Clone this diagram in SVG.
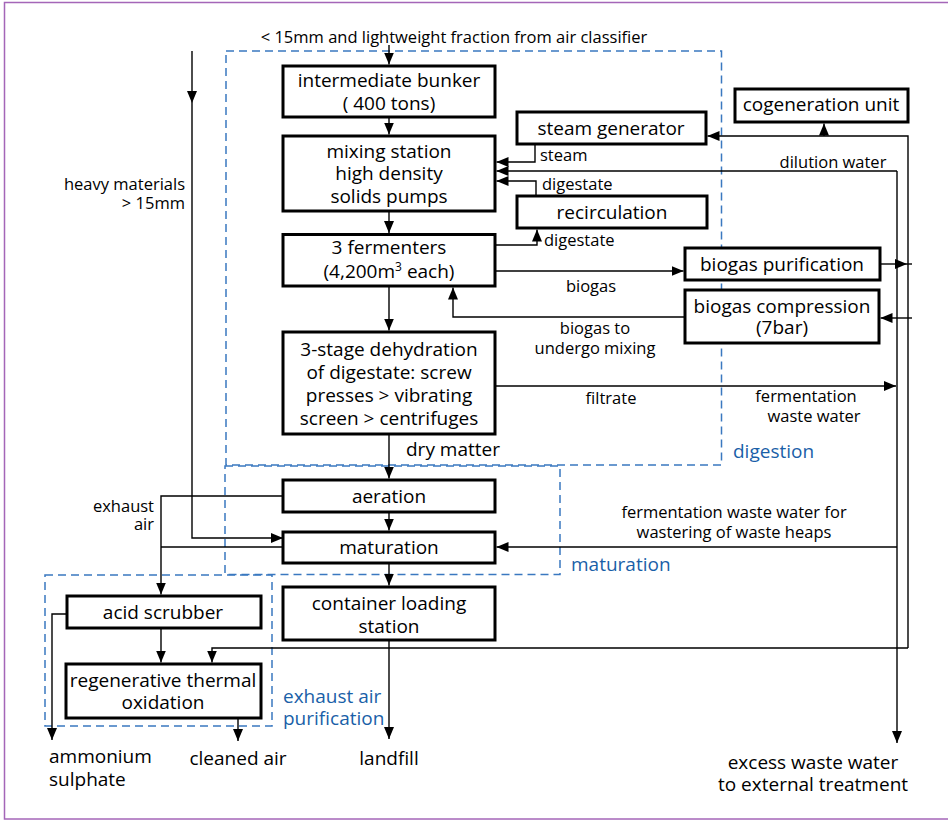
<svg xmlns="http://www.w3.org/2000/svg" width="948" height="820" viewBox="0 0 948 820">
<defs>
<marker id="ah" viewBox="0 0 12 10" refX="12" refY="5" markerWidth="12" markerHeight="10" markerUnits="userSpaceOnUse" orient="auto"><path d="M0,0 L12,5 L0,10 z" fill="#000"/></marker>
<style>
.frame{fill:#fff;stroke:#a466b8;stroke-width:1.5}
.box{fill:#fff;stroke:#000;stroke-width:3}
.grp{fill:none;stroke:#3a78c0;stroke-width:1.5;stroke-dasharray:8,5}
.c{fill:none;stroke:#000;stroke-width:1.4}
.a{marker-end:url(#ah)}
text{font-family:"Open Sans","Noto Sans",sans-serif;fill:#000}
.t{font-size:19px;text-anchor:middle}
.l{font-size:19px;text-anchor:start}
.s{font-size:16.5px}
.m{text-anchor:middle}
.e{text-anchor:end}
.blue{fill:#1a5fa8;font-size:19px}
</style>
</defs>
<rect class="frame" x="4.5" y="2.5" width="950" height="816.5"/>

<g id="groups">
<rect class="grp" x="226" y="51" width="495.5" height="414"/>
<rect class="grp" x="225" y="466" width="335" height="108.5"/>
<rect class="grp" x="45" y="575" width="227" height="151"/>
<text class="blue" x="733" y="458">digestion</text>
<text class="blue" x="571" y="571">maturation</text>
<text class="blue" x="283" y="703">exhaust air<tspan x="283" dy="22">purification</tspan></text>
</g>

<g id="connectors">
<path class="c a" d="M389,45 V64.5"/>
<path class="c a" d="M389,117 V134.5"/>
<path class="c a" d="M389,211 V233"/>
<path class="c a" d="M389,286 V330.5"/>
<path class="c a" d="M389,434 V478.5"/>
<path class="c a" d="M389,512 V530.5"/>
<path class="c a" d="M389,563 V585.5"/>
<path class="c a" d="M389,640 V739"/>
<path class="c a" d="M192,51 V103"/>
<path class="c a" d="M192,103 V538 H283"/>
<path class="c a" d="M283,496 H161 V594.5"/>
<path class="c" d="M283,547 H161"/>
<path class="c a" d="M161,628 V662.5"/>
<path class="c a" d="M67,614 H52 V740"/>
<path class="c a" d="M238,718 V741"/>
<path class="c a" d="M908,648 H212 V662.5"/>
<path class="c a" d="M908,648 V136 H707.5"/>
<path class="c a" d="M824,136 V123.5"/>
<path class="c a" d="M535,144 V162 H496.5"/>
<path class="c a" d="M897,171 V743"/>
<path class="c a" d="M897,171 H496.5"/>
<path class="c a" d="M536,195 V181 H496.5"/>
<path class="c a" d="M496,245 H537 V229.5"/>
<path class="c a" d="M496,271 H683.5"/>
<path class="c a" d="M881,264 H907"/>
<path class="c" d="M907,264 H912"/>
<path class="c a" d="M912,318 H880.5"/>
<path class="c a" d="M685,317 H453 V287.5"/>
<path class="c a" d="M496,386 H896"/>
<path class="c a" d="M897,547 H496.5"/>
</g>

<g id="labels">
<text class="s m" x="454" y="42.5">&lt; 15mm and lightweight fraction from air classifier</text>
<text class="s e" x="185" y="190">heavy materials<tspan x="185" dy="19">&gt; 15mm</tspan></text>
<text class="s e" x="154" y="512">exhaust<tspan x="154" dy="18">air</tspan></text>
<text class="s" x="540" y="161">steam</text>
<text class="s" x="542" y="190">digestate</text>
<text class="s" x="544" y="246">digestate</text>
<text class="s m" x="833" y="168">dilution water</text>
<text class="s m" x="591" y="292">biogas</text>
<text class="s m" x="595" y="334">biogas to<tspan x="595" dy="20">undergo mixing</tspan></text>
<text class="s m" x="611" y="404">filtrate</text>
<text class="s m" x="806" y="402">fermentation<tspan x="814" dy="20">waste water</tspan></text>
<text class="s m" x="734" y="518">fermentation waste water for<tspan x="734" dy="20">wastering of waste heaps</tspan></text>
<text class="l" x="406" y="456">dry matter</text>
<text class="l" x="49" y="763">ammonium<tspan x="49" dy="23">sulphate</tspan></text>
<text class="t" x="238" y="765">cleaned air</text>
<text class="t" x="389" y="765">landfill</text>
<text class="t" x="813" y="769">excess waste water<tspan x="813" dy="22">to external treatment</tspan></text>
</g>

<g id="n-bunker"><rect class="box" x="283" y="66" width="212" height="51"/><text class="t" x="389" y="87">intermediate bunker<tspan x="389" dy="23">( 400 tons)</tspan></text></g>
<g id="n-mixing"><rect class="box" x="283" y="136" width="212" height="75"/><text class="t" x="389" y="158">mixing station<tspan x="389" dy="22">high density</tspan><tspan x="389" dy="23">solids pumps</tspan></text></g>
<g id="n-fermenters"><rect class="box" x="283" y="234.5" width="212" height="51.5"/><text class="t" x="389" y="254">3 fermenters<tspan x="389" dy="24">(4,200m</tspan><tspan font-size="12" dy="-7">3</tspan><tspan dy="7"> each)</tspan></text></g>
<g id="n-dehydration"><rect class="box" x="283" y="332" width="212" height="102"/><text class="t" x="389" y="356">3-stage dehydration<tspan x="389" dy="23">of digestate: screw</tspan><tspan x="389" dy="23">presses &gt; vibrating</tspan><tspan x="389" dy="23">screen &gt; centrifuges</tspan></text></g>
<g id="n-aeration"><rect class="box" x="283" y="480" width="212" height="32"/><text class="t" x="389" y="503">aeration</text></g>
<g id="n-maturation"><rect class="box" x="283" y="532" width="212" height="31"/><text class="t" x="389" y="554">maturation</text></g>
<g id="n-container"><rect class="box" x="283" y="587" width="212" height="53"/><text class="t" x="389" y="610">container loading<tspan x="389" dy="23">station</tspan></text></g>
<g id="n-acid"><rect class="box" x="67" y="596" width="194" height="32"/><text class="t" x="163" y="619">acid scrubber</text></g>
<g id="n-rto"><rect class="box" x="66" y="664" width="195" height="54"/><text class="t" x="163" y="687">regenerative thermal<tspan x="163" dy="22">oxidation</tspan></text></g>
<g id="n-cogen"><rect class="box" x="735" y="89" width="173" height="33"/><text class="t" x="821" y="111">cogeneration unit</text></g>
<g id="n-steam"><rect class="box" x="517" y="112" width="189" height="32"/><text class="t" x="611" y="135">steam generator</text></g>
<g id="n-recirc"><rect class="box" x="517" y="196" width="190" height="32"/><text class="t" x="612" y="219">recirculation</text></g>
<g id="n-purif"><rect class="box" x="685" y="248" width="195" height="32"/><text class="t" x="782" y="271">biogas purification</text></g>
<g id="n-compr"><rect class="box" x="685" y="290" width="194" height="53"/><text class="t" x="782" y="313">biogas compression<tspan x="782" dy="21">(7bar)</tspan></text></g>
</svg>
